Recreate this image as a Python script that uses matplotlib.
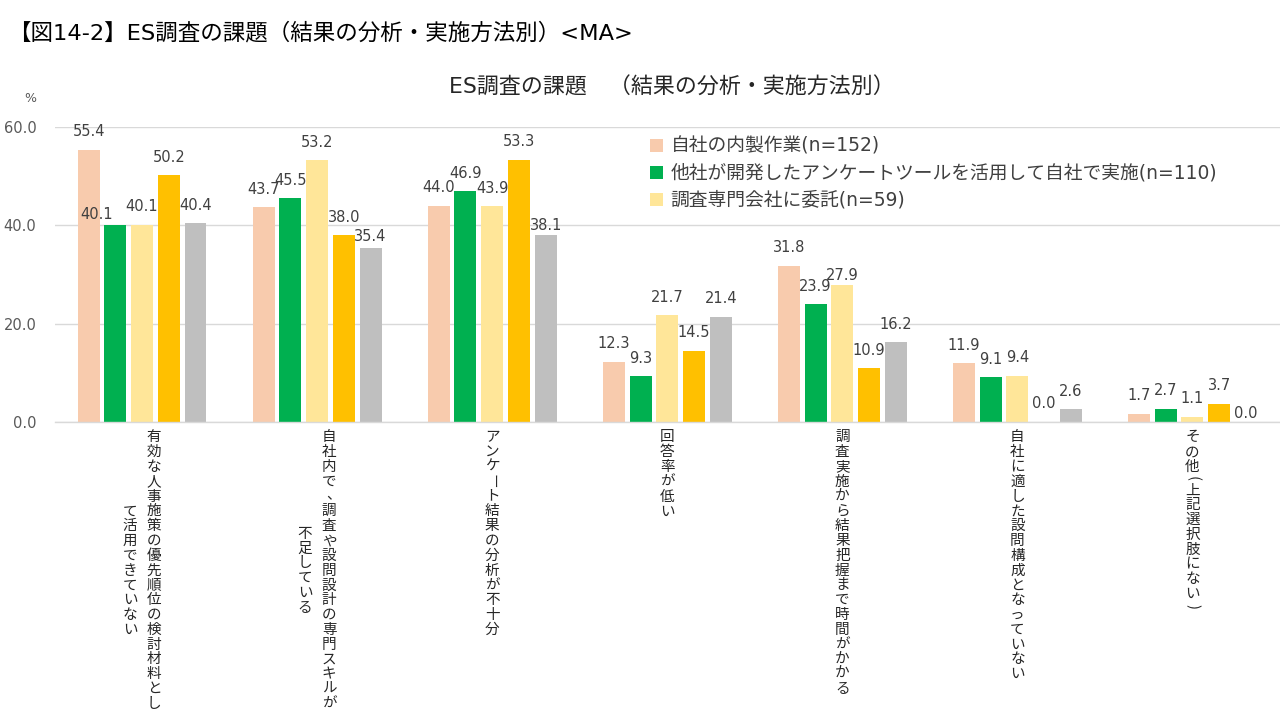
import matplotlib

matplotlib.use("Agg")

import matplotlib.pyplot as plt  # noqa: E402
import numpy as np  # noqa: E402
from matplotlib.patches import Patch  # noqa: E402

# DejaVu first gives Meiryo-like wide Latin, CJK falls through to Noto
plt.rcParams["font.family"] = ["DejaVu Sans", "Noto Sans CJK JP"]

# --- data -------------------------------------------------------------------
categories = [
    ["有効な人事施策の優先順位の検討材料とし", "て活用できていない"],
    ["自社内で、調査や設問設計の専門スキルが", "不足している"],
    ["アンケート結果の分析が不十分"],
    ["回答率が低い"],
    ["調査実施から結果把握まで時間がかかる"],
    ["自社に適した設問構成となっていない"],
    ["その他(上記選択肢にない)"],
]
series_names = [
    "自社の内製作業(n=152)",
    "他社が開発したアンケートツールを活用して自社で実施(n=110)",
    "調査専門会社に委託(n=59)",
    "",
    "",
]
naisei = [55.4, 43.7, 44.0, 12.3, 31.8, 11.9, 1.7]
tool = [40.1, 45.5, 46.9, 9.3, 23.9, 9.1, 2.7]
itaku = [40.1, 53.2, 43.9, 21.7, 27.9, 9.4, 1.1]
series4 = [50.2, 38.0, 53.3, 14.5, 10.9, 0.0, 3.7]
series5 = [40.4, 35.4, 38.1, 21.4, 16.2, 2.6, 0.0]
values = [naisei, tool, itaku, series4, series5]

COLORS = ["#F8CBAD", "#00B050", "#FFE699", "#FFC000", "#BFBFBF"]
GRID_COLOR = "#D9D9D9"
TEXT_COLOR = "#404040"
PX = 0.72  # points per pixel at dpi 100

# label nudges (series, category) -> (dx, dy) in pixels, where Excel moved labels
label_nudge = {(1, 0): (-19, -8), (4, 1): (0, -7), (4, 2): (0, -9),
               (2, 4): (0, -9), (4, 6): (0, -9)}

fig = plt.figure(figsize=(12.8, 7.2), dpi=100, facecolor="white")
ax = fig.add_axes([54.5 / 1280, 298 / 720, 1 - 54.5 / 1280, 295 / 720])

x = np.arange(len(categories))
pitch, width = 0.1527, 0.1256
for s, vals in enumerate(values):
    pos = x + (s - 2) * pitch
    bars = ax.bar(pos, vals, width=width, color=COLORS[s], zorder=2)
    for c, bar in enumerate(bars):
        dx, dy = label_nudge.get((s, c), (0, 0))
        ax.annotate(f"{vals[c]:.1f}", xy=(bar.get_x() + width / 2, bar.get_height()),
                    xytext=(dx * PX, (18 + dy) * PX), textcoords="offset points",
                    ha="center", va="center", fontsize=10.5, color=TEXT_COLOR,
                    annotation_clip=False)

ax.set_xlim(-0.5, len(categories) - 0.5)
ax.set_ylim(0, 60)
ax.set_yticks([0, 20, 40, 60])
ax.set_yticklabels([f"{v:.1f}" for v in [0, 20, 40, 60]], fontsize=10.5, color="#595959")
ax.tick_params(axis="y", length=0, pad=13)
ax.set_xticks([])
ax.grid(axis="y", color=GRID_COLOR, linewidth=1, zorder=0)
for side in ("top", "right", "left"):
    ax.spines[side].set_visible(False)
ax.spines["bottom"].set_color(GRID_COLOR)
ax.spines["bottom"].set_linewidth(1)


# vertical (tategaki) category labels, columns read right to left
def vertical_label(xpos, columns, size=10.5, step=14.8, top=8, colgap=24):
    def cell(ch):
        return 0.6 if ch in "()" else 1.0

    n = max(sum(cell(ch) for ch in col) for col in columns)
    for j, col in enumerate(columns):
        dx = ((len(columns) - 1) / 2 - j) * colgap
        y = (n - sum(cell(ch) for ch in col)) / 2
        for ch in col:
            h = cell(ch)
            dy = top + (y + h / 2) * step
            y += h
            rot = -90 if ch in "ー()" else 0
            ox, oy = (4, 1) if ch == "、" else (0, 0)
            ax.annotate(ch, xy=(xpos, 0), xytext=((dx + ox) * PX, (-dy + oy) * PX),
                        textcoords="offset points", ha="center", va="center",
                        rotation=rot, fontsize=size, color="#262626",
                        family="Noto Sans CJK JP", annotation_clip=False)


for i, cols in enumerate(categories):
    vertical_label(i, cols)

handles = [Patch(facecolor=COLORS[i], label=series_names[i]) for i in range(3)]
ax.legend(handles=handles, loc="upper left", bbox_to_anchor=(650 / 1280, 1 - 137 / 720),
          bbox_transform=fig.transFigure, frameon=False, fontsize=13.5,
          handlelength=0.7, handleheight=0.7, handletextpad=0.4,
          labelspacing=0.42, borderpad=0, borderaxespad=0, labelcolor=TEXT_COLOR)

fig.text(672 / 1280, 1 - 87 / 720, "ES調査の課題　（結果の分析・実施方法別）",
         ha="center", va="center", fontsize=15.8, color="#262626")
fig.text(8 / 1280, 1 - 33 / 720, "【図14-2】ES調査の課題（結果の分析・実施方法別）<MA>",
         ha="left", va="center", fontsize=16.2, color="black")
fig.text(30 / 1280, 1 - 98 / 720, "%", ha="center", va="center", fontsize=9, color="#595959")

fig.savefig("out.png", dpi=100, facecolor="white")
